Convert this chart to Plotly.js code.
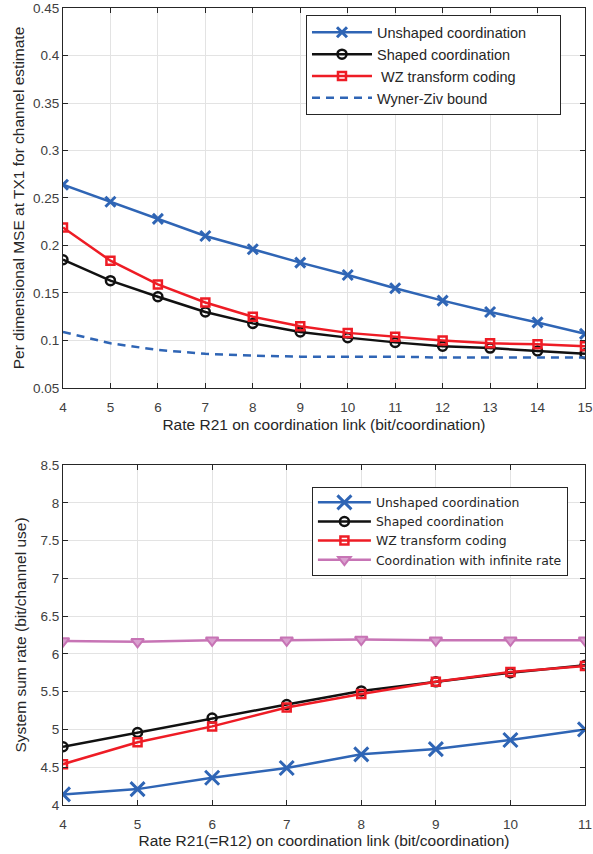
<!DOCTYPE html>
<html>
<head>
<meta charset="utf-8">
<script src="https://cdn.plot.ly/plotly-3.0.1.min.js"></script>
<style>html,body{margin:0;padding:0;background:#fff;}#chart{width:593px;height:854px;}</style>
</head>
<body>
<div id="chart"></div>
<script>
// Top chart data
var rateTop = [4, 5, 6, 7, 8, 9, 10, 11, 12, 13, 14, 15];
var mseUnshaped = [0.264, 0.246, 0.228, 0.210, 0.196, 0.182, 0.169, 0.155, 0.142, 0.130, 0.119, 0.107];
var mseShaped = [0.185, 0.163, 0.146, 0.130, 0.118, 0.109, 0.103, 0.098, 0.094, 0.092, 0.089, 0.086];
var mseWZ = [0.219, 0.184, 0.159, 0.140, 0.125, 0.115, 0.108, 0.104, 0.100, 0.097, 0.096, 0.094];
var mseBound = [0.109, 0.097, 0.090, 0.086, 0.084, 0.083, 0.083, 0.083, 0.082, 0.082, 0.082, 0.082];

// Bottom chart data
var rateBottom = [4, 5, 6, 7, 8, 9, 10, 11];
var sumUnshaped = [4.14, 4.21, 4.36, 4.49, 4.67, 4.74, 4.86, 5.00];
var sumShaped = [4.77, 4.96, 5.15, 5.33, 5.51, 5.63, 5.75, 5.85];
var sumWZ = [4.54, 4.83, 5.04, 5.29, 5.47, 5.63, 5.76, 5.84];
var sumInfinite = [6.17, 6.16, 6.18, 6.18, 6.19, 6.18, 6.18, 6.18];

var BLUE = '#2F65B5', BLACK = '#111111', RED = '#EE1C25', PINK = '#C774B5';
var FONT = 'Liberation Sans, Arial, sans-serif';
var PAD = '\u00a0\u00a0\u00a0\u00a0\u00a0\u00a0\u00a0';

var traces = [
  {x: rateTop, y: mseUnshaped, name: 'Unshaped coordination' + PAD, mode: 'lines+markers', xaxis: 'x', yaxis: 'y', legend: 'legend',
   line: {color: BLUE, width: 2.5}, marker: {symbol: 'x-thin-open', size: 10, line: {color: BLUE, width: 3}}},
  {x: rateTop, y: mseShaped, name: 'Shaped coordination', mode: 'lines+markers', xaxis: 'x', yaxis: 'y', legend: 'legend',
   line: {color: BLACK, width: 2.5}, marker: {symbol: 'circle-open', size: 9, line: {color: BLACK, width: 2.5}}},
  {x: rateTop, y: mseWZ, name: ' WZ transform coding', mode: 'lines+markers', xaxis: 'x', yaxis: 'y', legend: 'legend',
   line: {color: RED, width: 2.5}, marker: {symbol: 'square-open', size: 8, line: {color: RED, width: 2.5}}},
  {x: rateTop, y: mseBound, name: 'Wyner-Ziv bound', mode: 'lines', xaxis: 'x', yaxis: 'y', legend: 'legend',
   line: {color: BLUE, width: 2.5, dash: '8px,6px'}},

  {x: rateBottom, y: sumUnshaped, name: 'Unshaped coordination', mode: 'lines+markers', xaxis: 'x2', yaxis: 'y2', legend: 'legend2',
   line: {color: BLUE, width: 2.5}, marker: {symbol: 'x-thin-open', size: 14, line: {color: BLUE, width: 3}}},
  {x: rateBottom, y: sumShaped, name: 'Shaped coordination', mode: 'lines+markers', xaxis: 'x2', yaxis: 'y2', legend: 'legend2',
   line: {color: BLACK, width: 2.5}, marker: {symbol: 'circle-open', size: 9, line: {color: BLACK, width: 2.5}}},
  {x: rateBottom, y: sumWZ, name: 'WZ transform coding', mode: 'lines+markers', xaxis: 'x2', yaxis: 'y2', legend: 'legend2',
   line: {color: RED, width: 2.5}, marker: {symbol: 'square-open', size: 8, line: {color: RED, width: 2.5}}},
  {x: rateBottom, y: sumInfinite, name: 'Coordination with infinite rate', mode: 'lines+markers', xaxis: 'x2', yaxis: 'y2', legend: 'legend2',
   line: {color: PINK, width: 2.5}, marker: {symbol: 'triangle-down', size: 11, color: '#D9A0CF', line: {color: PINK, width: 2}}}
];

function axis(extra) {
  var a = {
    showline: true, linecolor: '#262626', linewidth: 1, mirror: 'ticks',
    ticks: 'inside', ticklen: 5, tickcolor: '#262626', tickwidth: 1,
    showgrid: true, gridcolor: '#E3E3E3', gridwidth: 1, zeroline: false,
    tickfont: {family: FONT, size: 13.5, color: '#404040'},
    title: {font: {family: FONT, size: 15.5, color: '#262626'}}
  };
  for (var k in extra) {
    if (k === 'titleText') a.title.text = extra[k];
    else if (k === 'standoff') a.title.standoff = extra[k];
    else a[k] = extra[k];
  }
  return a;
}

var layout = {
  width: 593, height: 854,
  margin: {l: 0, r: 0, t: 0, b: 0},
  paper_bgcolor: '#fff', plot_bgcolor: '#fff',
  showlegend: true,
  xaxis: axis({domain: [0.1062, 0.9865], anchor: 'y', range: [4, 15], dtick: 1, tick0: 4, ticklabelstandoff: 7,
    titleText: 'Rate R21 on coordination link (bit/coordination)', standoff: 4}),
  yaxis: axis({domain: [0.5457, 0.9906], anchor: 'x', range: [0.05, 0.45], dtick: 0.05, tick0: 0.05,
    titleText: 'Per dimensional MSE at TX1 for channel estimate', standoff: 4}),
  xaxis2: axis({domain: [0.1062, 0.9865], anchor: 'y2', range: [4, 11], dtick: 1, tick0: 4, ticklabelstandoff: 7,
    titleText: 'Rate R21(=R12) on coordination link (bit/coordination)', standoff: 2}),
  yaxis2: axis({domain: [0.0574, 0.4555], anchor: 'x2', range: [4, 8.5], dtick: 0.5, tick0: 4,
    titleText: 'System sum rate (bit/channel use)', standoff: 10}),
  legend: {x: 0.516, y: 0.982, xanchor: 'left', yanchor: 'top', bgcolor: '#fff',
    bordercolor: '#262626', borderwidth: 1, itemwidth: 60, tracegroupgap: 0,
    font: {family: FONT, size: 14.5, color: '#262626'}},
  legend2: {x: 0.526, y: 0.430, xanchor: 'left', yanchor: 'top', bgcolor: '#fff',
    bordercolor: '#262626', borderwidth: 1, itemwidth: 53, tracegroupgap: 0,
    font: {family: 'DejaVu Sans, sans-serif', size: 12.4, color: '#262626'}}
};

Plotly.newPlot('chart', traces, layout, {displayModeBar: false, staticPlot: true});
</script>
</body>
</html>
